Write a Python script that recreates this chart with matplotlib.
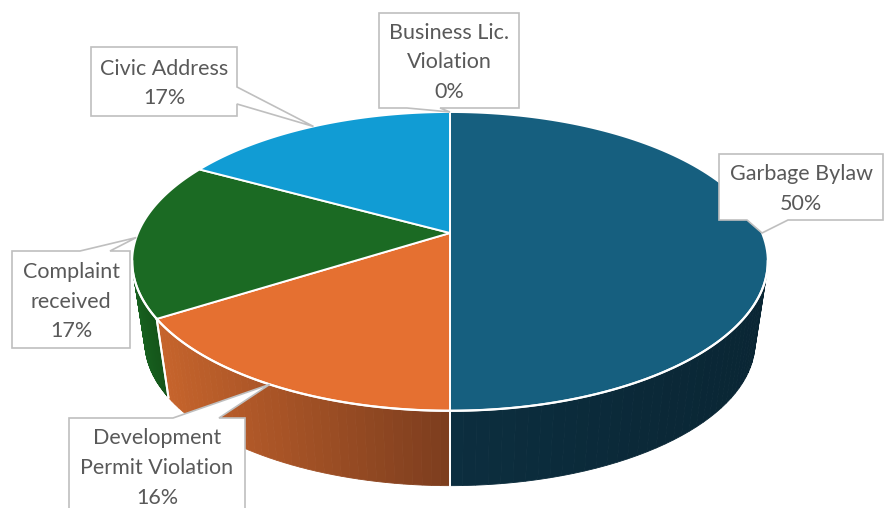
import numpy as np
import matplotlib
matplotlib.use("Agg")
import matplotlib.pyplot as plt
from matplotlib.patches import Polygon
from matplotlib.colors import to_rgb

plt.rcParams['font.family'] = ['Lato', 'DejaVu Sans']

# data (clockwise from 12 o'clock)
categories = ["Garbage Bylaw", "Development\nPermit Violation", "Complaint\nreceived",
              "Civic Address", "Business Lic.\nViolation"]
values = [50, 16, 17, 17, 0]
top_colors = ["#165F7F", "#E57031", "#1B6A23", "#119CD4", "#3A7DC9"]
wall_left = ["#0C2E3F", "#C6642C", "#17601F", "#0E7FB0", "#2E66A6"]
wall_right = ["#0A2634", "#7C3D1E", "#145419", "#0C6E98", "#27598F"]

# callout boxes: x0, y0, x1, y1, side, pointer base a, b (pixels)
boxes = [
    (719, 154, 883, 220, "bottom", 747, 788),
    (69, 418, 245, 530, "top", 173, 219),
    (12, 251, 130, 348, "top", 80, 110),
    (91, 47, 237, 116, "right", 87, 104),
    (379, 13, 519, 108, "bottom", 407, 440),
]

# projection of the pie (perspective ellipse)
cx, cy = 450, 233
k = 0.19
A, B = 312.0, 144.0
depth, shrink = 82, 0.96


def proj(phi, bottom=False):
    u = np.sin(phi)
    v = -np.cos(phi)
    w = 1 - k * v
    s = shrink if bottom else 1.0
    x = cx + s * A * u / w
    y = cy + s * B * v / w + (depth if bottom else 0)
    return x, y


fig = plt.figure(figsize=(8.88, 5.08), dpi=100)
ax = fig.add_axes([0, 0, 1, 1])
ax.set_xlim(0, 888)
ax.set_ylim(508, 0)
ax.axis('off')

total = sum(values)
bounds = np.concatenate([[0], np.cumsum(values)]) / total * 2 * np.pi
vis_lo = np.arccos(-k)
vis_hi = 2 * np.pi - vis_lo

# side walls (front part only)
for i in range(len(values)):
    a0, a1 = max(bounds[i], vis_lo), min(bounds[i + 1], vis_hi)
    if a1 <= a0:
        continue
    n = 40
    edges = np.linspace(a0, a1, n + 1)
    c0, c1 = np.array(to_rgb(wall_left[i])), np.array(to_rgb(wall_right[i]))
    xs = proj(edges)[0]
    xmin, xmax = xs.min(), xs.max()
    for j in range(n):
        ph = np.linspace(edges[j], edges[j + 1], 4)
        tx, ty = proj(ph)
        bx, by = proj(ph, True)
        # brighter on the left, darker to the right
        t = (tx.mean() - xmin) / (xmax - xmin)
        col = c0 * (1 - t) + c1 * t
        pts = np.column_stack([np.concatenate([tx, bx[::-1]]),
                               np.concatenate([ty, by[::-1]])])
        ax.add_patch(Polygon(pts, closed=True, facecolor=col, edgecolor=col,
                             linewidth=0.6, zorder=1))
    ph = np.linspace(a0, a1, 60)
    tx, ty = proj(ph)
    ax.plot(tx, ty, color="white", lw=1.6, zorder=3)
    for a in (a0, a1):
        if vis_lo < a < vis_hi:
            x0, y0 = proj(a)
            x1, y1 = proj(a, True)
            ax.plot([x0, x1], [y0, y1], color="white", lw=1.4, zorder=3)

# top face
for i in range(len(values)):
    if values[i] == 0:
        continue
    ph = np.linspace(bounds[i], bounds[i + 1], 120)
    tx, ty = proj(ph)
    pts = np.column_stack([np.concatenate([[cx], tx]), np.concatenate([[cy], ty])])
    ax.add_patch(Polygon(pts, closed=True, facecolor=top_colors[i],
                         edgecolor="white", linewidth=1.4, zorder=2))

# callouts
for i, (x0, y0, x1, y1, side, a, b) in enumerate(boxes):
    mid = (bounds[i] + bounds[i + 1]) / 2
    tip = proj(mid)
    TL, TR, BR, BL = (x0, y0), (x1, y0), (x1, y1), (x0, y1)
    if side == "top":
        verts = [TL, (a, y0), tip, (b, y0), TR, BR, BL]
    elif side == "right":
        verts = [TL, TR, (x1, a), tip, (x1, b), BR, BL]
    else:
        verts = [TL, TR, BR, (b, y1), tip, (a, y1), BL]
    ax.add_patch(Polygon(verts, closed=True, facecolor="white",
                         edgecolor="#BFBFBF", linewidth=1.2, zorder=5))
    pct = f"{values[i] / total * 100:.0f}%"
    ty_txt = (y0 + y1) / 2 + 2 if y1 < 508 else 468
    ax.text((x0 + x1) / 2, ty_txt, categories[i] + "\n" + pct,
            ha="center", va="center", fontsize=15.5, color="#595959",
            linespacing=1.6, zorder=6)

fig.savefig("out.png", dpi=100)
